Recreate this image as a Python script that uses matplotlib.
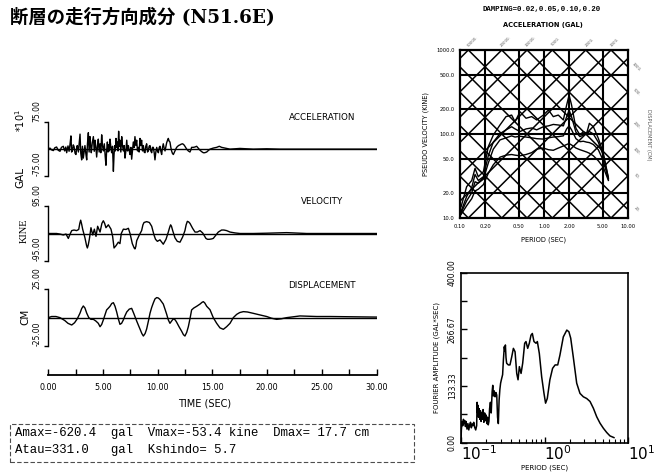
import numpy as np
import matplotlib.pyplot as plt

plt.rcParams['font.family'] = ['DejaVu Sans']

# ---- time histories (t in sec) ----
acc_t = [0.00, 0.15, 0.30, 0.46, 0.60, 0.76, 0.90, 1.07, 1.20, 1.37, 1.50, 1.60, 1.68, 1.80,
         1.90, 1.98, 2.07, 2.13, 2.20, 2.28, 2.35, 2.45, 2.53, 2.60, 2.65, 2.75, 2.82, 2.90,
         2.97, 3.05, 3.12, 3.20, 3.28, 3.35, 3.43, 3.51, 3.58, 3.66, 3.73, 3.81, 3.87, 3.93,
         4.02, 4.12, 4.20, 4.27, 4.35, 4.42, 4.50, 4.57, 4.65, 4.73, 4.80, 4.88, 4.95, 5.03,
         5.12, 5.20, 5.27, 5.33, 5.40, 5.46, 5.52, 5.58, 5.64, 5.72, 5.79, 5.87, 5.95, 6.01,
         6.07, 6.13, 6.19, 6.25, 6.31, 6.37, 6.43, 6.49, 6.55, 6.63, 6.71, 6.78, 6.86, 6.93,
         7.01, 7.09, 7.17, 7.24, 7.32, 7.40, 7.47, 7.55, 7.62, 7.70, 7.77, 7.85, 7.92, 8.00,
         8.08, 8.15, 8.23, 8.30, 8.38, 8.45, 8.53, 8.61, 8.69, 8.76, 8.84, 8.91, 8.99, 9.07,
         9.14, 9.22, 9.30, 9.37, 9.45, 9.52, 9.60, 9.68, 9.75, 9.83, 9.91, 9.98, 10.06, 10.14,
         10.21, 10.28, 10.36, 10.44, 10.51, 10.59, 10.67, 10.75, 10.82, 10.90, 10.97, 11.05,
         11.12, 11.20, 11.27, 11.35, 11.43, 11.50, 11.58, 11.65, 11.73, 11.90, 12.04, 12.15,
         12.28, 12.40, 12.49, 12.65, 12.80, 12.95, 13.03, 13.10, 13.26, 13.40, 13.56, 13.70,
         13.87, 14.02, 14.17, 14.30, 14.48, 14.62, 14.78, 15.08, 15.39, 15.63, 15.84, 16.15,
         16.61, 17.52, 18.74, 19.96, 21.17, 30.00]
acc_v = [0, 3, -2, -4, 4, 6, -3, -6, 5, 8, -5, 6, -10, 9,
         -6, 12, 37, -8, -5, 12, 8, -12, -15, 6, 10, -8, 15, 42,
         -12, -30, 8, -25, -5, 10, -12, -30, 15, 46, -8, 35, 10, -10,
         18, 35, -6, 25, 5, -22, 10, 28, -8, 15, -10, 40, 10, -5,
         15, -20, -45, -5, 20, -8, 12, -5, 28, 5, -10, 8, -62.04, -15,
         10, -5, 30, 5, 20, -5, 50, 8, 25, -8, 35, 10, -5, 10,
         -25, -5, 25, -5, 10, -5, -15, 5, -28, -3, 20, 5, 35, 10,
         25, -5, 5, -8, 30, 10, 25, -5, 10, -8, -10, 8, 15, -8,
         -5, 8, 10, -5, -10, 5, 5, -10, -30, -8, 5, -5, -10, 5,
         8, -5, -15, 5, 15, 3, -5, 8, 18, 25, 30, 22,
         20, 5, -5, -12, -15, -10, -5, 0, 5, 10, 12, 14,
         15, 12, 8, 0, -5, -8, -2, 5, 5, 6, 8, 3,
         -3, -7, -10, -10, -8, -4, 0, 3, 5, 8, 5, 3,
         0, 2, 0, 1, 0, 0]  # x10 gal

vel_t = [0.0, 0.76, 1.07, 1.37, 1.62, 1.83, 1.98, 2.14, 2.35, 2.59, 2.78, 2.88, 2.96, 3.05,
         3.14, 3.35, 3.50, 3.57, 3.65, 3.75, 3.90, 4.06, 4.21, 4.36, 4.51, 4.73, 4.90, 5.03,
         5.15, 5.27, 5.49, 5.73, 5.88, 6.01, 6.19, 6.40, 6.55, 6.67, 6.86, 7.10, 7.32, 7.47,
         7.68, 7.85, 7.92, 8.00, 8.08, 8.32, 8.53, 8.65, 8.75, 8.99, 9.24, 9.45, 9.66, 9.80,
         9.97, 10.21, 10.51, 10.76, 10.97, 11.10, 11.18, 11.26, 11.37, 11.58, 11.79, 12.04,
         12.28, 12.49, 12.60, 12.71, 12.83, 12.95, 13.19, 13.41, 13.62, 13.87, 14.11, 14.41,
         14.55, 14.72, 14.90, 15.08, 15.33, 15.54, 15.84, 16.05, 16.30, 16.61, 17.07, 17.52,
         18.74, 19.96, 21.79, 22.40, 23.62, 30.0]
vel_v = [0, 0, -2, -5, -2, -17, -3, 10, 12, 10, 14, 35, 46, 32,
         15, -15, -42, -50, -40, -20, 20, -5, 15, -10, 25, 5, 35, 44,
         35, 20, 30, 15, -10, -50, -42, -30, -35, 0, 15, 14, 18, 0,
         -35, -50, -53.4, -45, -25, -5, 10, 30, 38, 41, 38, 25, -5, -20,
         -27, -22, -37, -20, 5, 22, 30, 25, 10, -15, -27, -30,
         -12, 10, 30, 42, 40, 35, 18, 5, 5, 10, 2, -17,
         -20, -20, -19, -17, -5, 5, 12, 12, 10, 5, 2, 0,
         0, 1, 3, 2, 0, 0]  # kine

dis_t = [0.0, 0.3, 0.7, 1.07, 1.5, 1.8, 2.14, 2.4, 2.65, 2.9, 3.05, 3.2, 3.35, 3.51, 3.7,
         3.9, 4.12, 4.35, 4.57, 4.73, 4.88, 5.03, 5.2, 5.33, 5.5, 5.64, 5.8, 5.95, 6.1, 6.25,
         6.4, 6.55, 6.7, 6.86, 7.0, 7.17, 7.4, 7.62, 7.8, 8.08, 8.25, 8.38, 8.55, 8.69, 8.85,
         8.99, 9.15, 9.30, 9.45, 9.60, 9.75, 9.91, 10.06, 10.21, 10.36, 10.51, 10.65, 10.82,
         10.97, 11.12, 11.27, 11.43, 11.6, 11.73, 11.95, 12.19, 12.35, 12.49, 12.65, 12.80,
         12.95, 13.10, 13.3, 13.56, 13.87, 14.05, 14.17, 14.3, 14.48, 14.78, 14.95, 15.08,
         15.39, 15.69, 16.00, 16.30, 16.61, 16.91, 17.22, 17.5, 17.83, 18.2, 18.74, 19.3,
         19.96, 20.4, 20.87, 21.3, 21.79, 23.00, 24.53, 25.75, 30.0]
dis_v = [0, 1, 1, 0, -2.5, -5, -6.5, -4.5, -1, 4, 8, 10.3, 8.5, 4, 0,
         -1.5, -1.5, -3, -5, -8, -6, -2, 3, 6.8, 8.5, 10, 12.5, 13.2, 10, 5,
         -1, -5.9, -5, -2, 1.5, 5, 7.5, 8.2, 4, -3, -7, -10, -14, -16.2, -14,
         -10, -3, 4, 9, 13, 16.5, 17.7, 17.3, 16, 14, 12, 8, 3,
         -2, -5, -3, -1, -2, -4, -8, -12, -15, -16.2, -13, -8,
         -1, 6.8, 8.5, 10, 12, 13.5, 14.1, 13, 10, 7, 3, 0,
         -5, -9, -10.3, -8, -5, 0, 2.9, 4.5, 5.3, 5, 3.8, 2.5,
         1, -0.5, -1.5, -1, 0, 1.5, 1, 1, 0.5]  # cm

# ---- pseudo velocity response spectra ----
damping = [0.02, 0.05, 0.10, 0.20]
sv_period = [0.103, 0.12, 0.138, 0.151, 0.165, 0.19, 0.217, 0.249, 0.299, 0.353, 0.412, 0.452,
             0.518, 0.611, 0.713, 0.818, 0.982, 1.13, 1.29, 1.48, 1.70, 1.86, 1.99, 2.13,
             2.40, 2.68, 2.94, 3.22, 3.47, 3.87, 4.43, 5.09, 5.84]
sv_h02 = [13.6, 23.6, 28, 39, 31, 35.6, 70.6, 97, 128, 161, 168, 140, 184, 154, 161, 147, 168,
          193, 161, 168, 147, 221, 291, 221, 117, 97, 107, 102, 134, 122, 89, 59, 30]
sv_h05 = [12, 18, 23, 33, 28, 31, 55, 80, 101, 112, 122, 115, 107, 115, 118, 112, 122,
          125, 130, 128, 125, 160, 193, 160, 105, 93, 97, 100, 107, 100, 80, 55, 30]
sv_h10 = [11.5, 16, 20, 27, 26, 29, 45, 66, 85, 90, 95, 92, 94, 92, 90, 88, 87,
          90, 92, 93, 95, 115, 125, 112, 88, 81, 82, 80, 79, 75, 65, 48, 29]
sv_h20 = [11, 14, 17, 21, 22, 25, 34, 43, 53, 56, 57, 56, 55, 57, 60, 66, 68,
          65, 64, 68, 72, 75, 77, 74, 68, 65, 63, 61, 59, 55, 48, 40, 28]

grid_period = [0.1, 0.2, 0.5, 1.0, 2.0, 5.0, 10.0]
grid_period_labels = ['0.10', '0.20', '0.50', '1.00', '2.00', '5.00', '10.00']
grid_sv = [10, 20, 50, 100, 200, 500, 1000]
grid_sv_labels = ['10.0', '20.0', '50.0', '100.0', '200.0', '500.0', '1000.0']
acc_levels = [10, 20, 50, 100, 200, 500, 1000, 2000, 5000, 10000, 20000, 50000]  # gal
dis_levels = [0.2, 0.5, 1, 2, 5, 10, 20, 50, 100, 200, 500, 1000]  # cm

# ---- Fourier amplitude spectrum ----
fa_period = [0.100, 0.101, 0.103, 0.105, 0.107, 0.109, 0.111, 0.113, 0.115, 0.118, 0.121,
             0.124, 0.127, 0.130, 0.133, 0.136, 0.139, 0.142, 0.146, 0.150, 0.154, 0.156,
             0.158, 0.160, 0.162, 0.165, 0.168, 0.171, 0.174, 0.177, 0.180, 0.184, 0.188,
             0.192, 0.196, 0.200, 0.204, 0.208, 0.212, 0.216, 0.220, 0.225, 0.230, 0.236,
             0.240, 0.244, 0.250, 0.256, 0.262, 0.268, 0.274, 0.280, 0.286, 0.292, 0.298,
             0.306, 0.315, 0.322, 0.330, 0.336, 0.340, 0.346, 0.352, 0.369, 0.386, 0.405,
             0.424, 0.444, 0.465, 0.482, 0.500, 0.524, 0.548, 0.579, 0.600, 0.629, 0.658,
             0.689, 0.715, 0.748, 0.791, 0.821, 0.867, 0.925, 0.986, 1.03, 1.08, 1.16, 1.25,
             1.34, 1.44, 1.53, 1.68, 1.85, 1.96, 2.06, 2.21, 2.43, 2.66, 2.92, 3.20, 3.51,
             3.85, 4.22, 4.62, 5.07, 5.56, 6.08, 6.79]
fa_amp = [5, 30, 50, 40, 55, 45, 52, 38, 50, 32, 45,
          30, 42, 48, 35, 44, 40, 48, 36, 30, 40, 95,
          70, 88, 60, 80, 55, 75, 50, 70, 55, 78, 48,
          70, 52, 65, 45, 60, 42, 50, 80, 95, 70, 120,
          135, 110, 122, 108, 118, 112, 60, 45, 100, 125, 140,
          150, 160, 195, 226, 215, 230, 200, 187, 183, 183, 202,
          222, 214, 163, 148, 179, 163, 187, 234, 238, 222, 234,
          253, 257, 238, 234, 238, 210, 155, 116, 93, 104, 148, 175,
          183, 183, 206, 249, 265, 261, 246, 202, 140, 116, 108, 104, 97,
          81, 61, 46, 34, 24, 16, 12]

W, H = 660, 473
fig = plt.figure(figsize=(W / 100, H / 100), dpi=100)


def rect(x0, y0, x1, y1):
    return [x0 / W, 1 - y1 / H, (x1 - x0) / W, (y1 - y0) / H]


def px(x, y):
    return x / W, 1 - y / H


fig.text(*px(10, 18), '断層の走行方向成分 (N51.6E)', fontsize=13.2, fontweight='bold',
         family=['DejaVu Serif', 'Noto Sans CJK JP'], va='center', ha='left')

# ---- time history panels ----
panels = [
    (rect(48.3, 122.3, 376.5, 176.0), acc_t, acc_v, 75, ['-75.00', '75.00'], 'ACCELERATION', 117),
    (rect(48.3, 206.0, 376.5, 261.0), vel_t, vel_v, 95, ['-95.00', '95.00'], 'VELOCITY', 201),
    (rect(48.3, 289.3, 376.5, 346.0), dis_t, dis_v, 25, ['-25.00', '25.00'], 'DISPLACEMENT', 285),
]
for r, t, v, lim, labs, title, ty in panels:
    ax = fig.add_axes(r)
    ax.axhline(0, color='k', lw=1.0)
    ax.plot(t, v, color='k', lw=1.0)
    ax.set_xlim(0, 30)
    ax.set_ylim(-lim, lim)
    for s in ['top', 'right', 'bottom']:
        ax.spines[s].set_visible(False)
    ax.spines['left'].set_linewidth(1.0)
    ax.set_xticks([])
    ax.set_yticks([-lim, lim])
    ax.set_yticklabels(labs, rotation=90, va='bottom', ha='center', fontsize=5.5)
    ax.tick_params(axis='y', direction='out', length=3, width=1, pad=5)
    ax.patch.set_alpha(0)
    fig.text(*px(322, ty), title, fontsize=6.3, ha='center', va='center')

fig.text(*px(20, 177), 'GAL', rotation=90, fontsize=7.5, ha='center', va='center')
fig.text(*px(20, 121), '*10$^{1}$', rotation=90, fontsize=7, ha='center', va='center')
fig.text(*px(24, 231), 'KINE', rotation=90, fontsize=7.5, ha='center', va='center',
         family='Liberation Serif')
fig.text(*px(25, 317), 'CM', rotation=90, fontsize=7.5, ha='center', va='center')

# time axis
tax = fig.add_axes(rect(48.3, 374.0, 376.5, 375.0))
tax.set_xlim(0, 30)
tax.set_yticks([])
for s in ['top', 'right', 'left']:
    tax.spines[s].set_visible(False)
tax.spines['bottom'].set_linewidth(1.3)
tax.set_xticks(np.arange(0, 31, 5))
tax.set_xticklabels(['%.2f' % v for v in np.arange(0, 31, 5)], fontsize=5.8)
tax.set_xticks(np.arange(2.5, 30, 5), minor=True)
tax.tick_params(axis='x', which='both', direction='in', length=4, width=1, pad=6)
tax.patch.set_alpha(0)
fig.text(*px(205, 403), 'TIME (SEC)', fontsize=7, ha='center', va='center')

# summary box
fig.patches.append(plt.Rectangle(px(10, 462), 404 / W, 38 / H, transform=fig.transFigure,
                                 fill=False, ls=(0, (4, 2)), lw=0.8, color='0.3'))
fig.text(*px(15, 433), 'Amax=-620.4  gal  Vmax=-53.4 kine  Dmax= 17.7 cm',
         family='Liberation Mono', fontsize=8.9, va='center')
fig.text(*px(15, 450), 'Atau=331.0   gal  Kshindo= 5.7',
         family='Liberation Mono', fontsize=8.9, va='center')

# ---- tripartite response spectrum ----
sx = fig.add_axes(rect(460, 50, 628, 218))
sx.set_xscale('log')
sx.set_yscale('log')
T = np.array([0.05, 20])
for a in acc_levels:
    sx.plot(T, a * T / (2 * np.pi), color='k', lw=1.1)
for d in dis_levels:
    sx.plot(T, 2 * np.pi * d / T, color='k', lw=1.1)
for g in grid_period[1:-1]:
    sx.axvline(g, color='k', lw=1.5)
for g in grid_sv[1:-1]:
    sx.axhline(g, color='k', lw=1.5)
for sv in [sv_h02, sv_h05, sv_h10, sv_h20]:
    sx.plot(sv_period, sv, color='k', lw=1.0)
sx.set_xlim(0.1, 10)
sx.set_ylim(10, 1000)
for s in sx.spines.values():
    s.set_linewidth(1.6)
sx.set_xticks(grid_period)
sx.set_xticklabels(grid_period_labels, fontsize=3.8)
sx.set_yticks(grid_sv)
sx.set_yticklabels(grid_sv_labels, fontsize=3.8)
sx.minorticks_off()
sx.tick_params(length=0, pad=4)
sx.set_xlabel('PERIOD (SEC)', fontsize=4.8, labelpad=6)
sx.set_ylabel('PSEUDO VELOCITY (KINE)', fontsize=4.8, labelpad=5)
for a in [50000, 20000, 10000, 5000, 2000, 1000]:
    sx.text(2 * np.pi * 1000 / a * 1.12, 1250, '%g.' % a, rotation=45, fontsize=2.8,
            color='0.35', ha='center', va='center', clip_on=False)
for d in [1000, 500, 200, 100, 50, 20]:
    sx.text(12.5, 2 * np.pi * d / 10, '%g.' % d, rotation=-45, fontsize=2.8,
            color='0.35', ha='center', va='center', clip_on=False)
fig.text(*px(542, 10), 'DAMPING=0.02,0.05,0.10,0.20', fontsize=5.3, ha='center', va='center',
         family='Liberation Mono', fontweight='bold')
fig.text(*px(543, 25), 'ACCELERATION (GAL)', fontsize=4.8, ha='center', va='center',
         fontweight='bold')
fig.text(*px(648, 135), 'DISPLACEMENT (CM)', fontsize=3.6, rotation=-90, ha='center',
         va='center', color='0.35')

# ---- Fourier amplitude spectrum ----
fx = fig.add_axes(rect(461, 272.7, 628, 442.7))
fx.set_xscale('log')
fx.plot(fa_period, fa_amp, color='k', lw=1.1)
fx.set_xlim(0.1, 10)
fx.set_ylim(0, 400)
for s in fx.spines.values():
    s.set_linewidth(1.2)
fx.set_yticks(np.linspace(0, 400, 7))
fx.set_yticklabels(['0.00', '', '133.33', '', '266.67', '', '400.00'], rotation=90,
                   va='center', fontsize=5.5)
fx.set_xticks([0.1, 1, 10])
fx.set_xticklabels(['10$^{-1}$', '10$^{0}$', '10$^{1}$'], fontsize=11, ha='left')
fx.tick_params(axis='both', which='both', direction='in', top=False, right=False)
fx.tick_params(axis='both', which='major', length=4, width=1)
fx.tick_params(axis='x', which='minor', length=3, width=0.8)
fx.tick_params(axis='y', pad=3)
fx.tick_params(axis='x', pad=1)
fx.set_xlabel('PERIOD (SEC)', fontsize=5, labelpad=1)
fx.set_ylabel('FOURIER AMPLITUDE (GAL*SEC)', fontsize=5, labelpad=6)

fig.savefig('out.png', dpi=100, facecolor='white')
